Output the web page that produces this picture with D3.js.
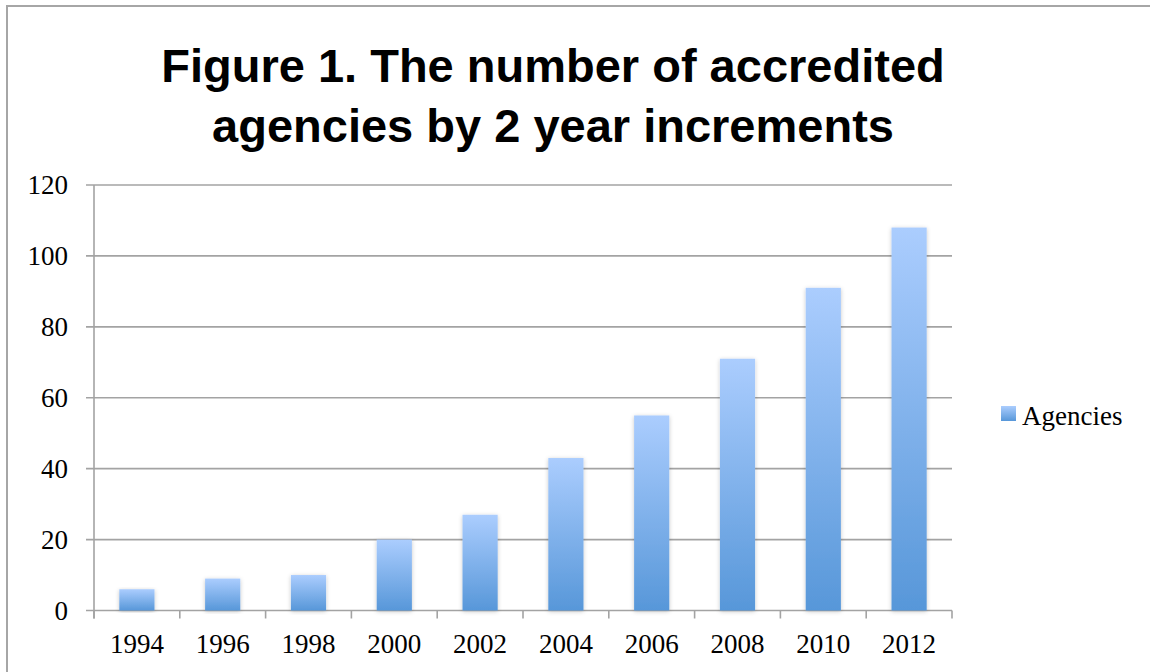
<!DOCTYPE html>
<html>
<head>
<meta charset="utf-8">
<script src="https://cdn.jsdelivr.net/npm/d3@7"></script>
<style>
  html, body { margin: 0; padding: 0; background: #fff; }
  svg { display: block; }
</style>
</head>
<body>
<svg id="chart" width="1150" height="672"></svg>
<script>
const years = ["1994","1996","1998","2000","2002","2004","2006","2008","2010","2012"];
const agencies = [6, 9, 10, 20, 27, 43, 55, 71, 91, 108];
const yTicks = [0, 20, 40, 60, 80, 100, 120];
const titleLines = ["Figure 1. The number of accredited", "agencies by 2 year increments"];
const seriesName = "Agencies";

const svg = d3.select("#chart");
const W = 1150, H = 672;
const plot = { left: 94, right: 952, top: 185, bottom: 610.5 };

// frame
svg.append("path")
  .attr("d", `M${W+5},6 H7 V${H+5}`)
  .attr("fill", "none").attr("stroke", "#a6a6a6").attr("stroke-width", 2);

const defs = svg.append("defs");
const grad = defs.append("linearGradient").attr("id", "barGrad")
  .attr("x1", 0).attr("y1", 0).attr("x2", 0).attr("y2", 1);
grad.append("stop").attr("offset", "0%").attr("stop-color", "#abcdfe");
grad.append("stop").attr("offset", "100%").attr("stop-color", "#5797d9");
const f = defs.append("filter").attr("id", "shadow")
  .attr("x", "-30%").attr("y", "-10%").attr("width", "160%").attr("height", "120%");
f.append("feDropShadow").attr("dx", 0).attr("dy", 1).attr("stdDeviation", 2.2)
  .attr("flood-color", "#000").attr("flood-opacity", 0.22);

const x = d3.scaleBand().domain(years).range([plot.left, plot.right]).paddingInner(0.59).paddingOuter(0.295);
const xb = d3.scaleBand().domain(years).range([plot.left, plot.right]).padding(0);
const y = d3.scaleLinear().domain([0, 120]).range([plot.bottom, plot.top]);

// gridlines
svg.append("g").selectAll("line").data(yTicks).join("line")
  .attr("x1", plot.left - 8).attr("x2", plot.right)
  .attr("y1", d => y(d)).attr("y2", d => y(d))
  .attr("stroke", "#a3a3a3").attr("stroke-width", 1.6);

// y axis line
svg.append("line").attr("x1", plot.left).attr("x2", plot.left)
  .attr("y1", plot.top).attr("y2", plot.bottom + 8)
  .attr("stroke", "#a3a3a3").attr("stroke-width", 1.6);

// x ticks at category boundaries
const bounds = years.map(d => xb(d)).concat([plot.right]);
svg.append("g").selectAll("line").data(bounds).join("line")
  .attr("x1", d => d).attr("x2", d => d)
  .attr("y1", plot.bottom).attr("y2", plot.bottom + 8)
  .attr("stroke", "#a3a3a3").attr("stroke-width", 1.6);

// bars
svg.append("g").selectAll("rect").data(agencies).join("rect")
  .attr("x", (d, i) => x(years[i]))
  .attr("width", x.bandwidth())
  .attr("y", d => y(d))
  .attr("height", d => y(0) - y(d))
  .attr("fill", "url(#barGrad)")
  .attr("filter", "url(#shadow)");

// y labels
svg.append("g").selectAll("text").data(yTicks).join("text")
  .attr("x", 68).attr("y", d => y(d)).attr("dy", "0.35em")
  .attr("text-anchor", "end")
  .attr("font-family", "'Liberation Serif', serif").attr("font-size", 27)
  .attr("fill", "#000").text(d => d);

// x labels
svg.append("g").selectAll("text").data(years).join("text")
  .attr("x", d => xb(d) + xb.bandwidth() / 2).attr("y", 653)
  .attr("text-anchor", "middle")
  .attr("font-family", "'Liberation Serif', serif").attr("font-size", 27)
  .attr("fill", "#000").text(d => d);

// title
svg.append("g").selectAll("text").data(titleLines).join("text")
  .attr("x", 553).attr("y", (d, i) => 82 + i * 60)
  .attr("text-anchor", "middle")
  .attr("font-family", "'Liberation Sans', Arial, sans-serif")
  .attr("font-weight", "bold").attr("font-size", 47)
  .attr("fill", "#000").text(d => d);

// legend
const lg = svg.append("g").attr("transform", "translate(1001,406)");
lg.append("rect").attr("width", 15).attr("height", 15).attr("fill", "url(#barGrad)");
lg.append("text").attr("x", 21).attr("y", 19)
  .attr("font-family", "'Liberation Serif', serif").attr("font-size", 27)
  .attr("fill", "#000").text(seriesName);
</script>
</body>
</html>
